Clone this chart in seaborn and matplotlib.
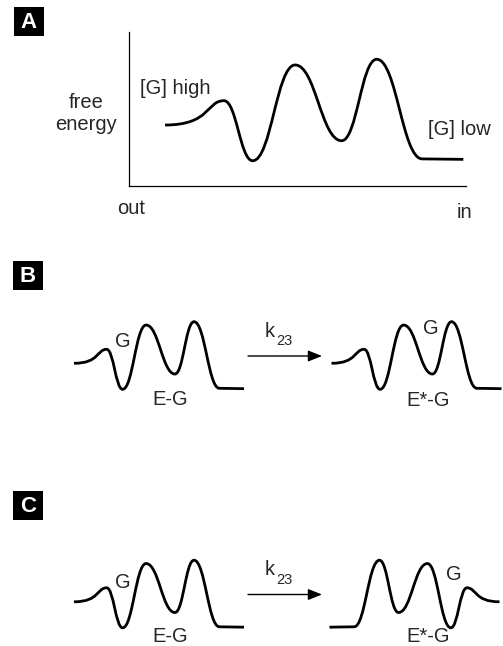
import numpy as np
import matplotlib
matplotlib.use("Agg")
import matplotlib.pyplot as plt
from matplotlib.path import Path
from matplotlib.patches import PathPatch, Rectangle
import seaborn as sns

# ---------------- data ----------------
# Panel A: turning points of the free-energy profile,
# reaction coordinate 0 (out) .. 100 (in), energy 0..10
a_coord = [10.7, 28.2, 36.7, 49.3, 63.1, 73.5, 87.0, 99.2]
a_energy = [3.96, 5.54, 1.64, 7.86, 2.94, 8.23, 1.76, 1.73]

# Panels B/C: turning points of the small E-G profile, coordinate 0..100, energy 0..10
eg_coord = [0.0, 19.2, 28.6, 42.4, 59.4, 70.6, 85.5, 100.0]
eg_energy = [3.88, 5.77, 0.36, 9.05, 2.43, 9.50, 0.50, 0.45]

panel_letters = ["A", "B", "C"]
a_ylabel = ["free", "energy"]
a_xlabels = ["out", "in"]
a_annot = ["[G] high", "[G] low"]
state_labels = ["E-G", "E*-G"]
rate_label = ("k", "23")
ligand = "G"

# ---------------- figure ----------------
W, H = 503, 646
DPI = 100
sns.set_style("white")
plt.rcParams['font.family'] = ['Liberation Sans', 'DejaVu Sans']

fig = plt.figure(figsize=(W / DPI, H / DPI), dpi=DPI)
fig.patch.set_facecolor("white")


def px_axes(left, top, right, bottom):
    return fig.add_axes([left / W, 1 - bottom / H, (right - left) / W, (bottom - top) / H])


def smooth_path(x, y, k=0.44):
    # smooth curve through turning points, flat tangent at each one
    verts = [(x[0], y[0])]
    codes = [Path.MOVETO]
    for i in range(len(x) - 1):
        h = x[i + 1] - x[i]
        k1, k2 = (0.78, 0.30) if i == 0 else (k, k)
        verts += [(x[i] + k1 * h, y[i]), (x[i + 1] - k2 * h, y[i + 1]), (x[i + 1], y[i + 1])]
        codes += [Path.CURVE4] * 3
    return Path(verts, codes)


def draw_profile(ax, x, y, lw=2.0):
    ax.add_patch(PathPatch(smooth_path(x, y), facecolor="none", edgecolor="black",
                           lw=lw, clip_on=False, capstyle="butt", joinstyle="round"))


# Panel A axes
axA = px_axes(129, 32, 466, 186)
axA.set_xlim(0, 100)
axA.set_ylim(0, 10)
sns.despine(ax=axA)
for sp in ["left", "bottom"]:
    axA.spines[sp].set_linewidth(0.9)
    axA.spines[sp].set_color("black")
axA.set_xticks([])
axA.set_yticks([])
axA.set_facecolor("none")
draw_profile(axA, a_coord, a_energy, lw=2.0)

# Small profiles for B and C
C_SHIFT = 238.5
small_boxes = [
    (74, 318, 244, 392, False),
    (331.5, 318, 501.5, 392, False),
    (74, 318 + C_SHIFT, 244, 392 + C_SHIFT, False),
    (329.5, 318 + C_SHIFT, 499.5, 392 + C_SHIFT, True),
]
for (l, t, r, b, mirror) in small_boxes:
    ax = px_axes(l, t, r, b)
    ax.set_xlim((100, 0) if mirror else (0, 100))
    ax.set_ylim(0, 10)
    ax.axis("off")
    draw_profile(ax, eg_coord, eg_energy, lw=2.0)

# overlay for annotations (pixel coordinates)
ov = fig.add_axes([0, 0, 1, 1], zorder=10)
ov.set_xlim(0, W)
ov.set_ylim(H, 0)
ov.axis("off")
ov.patch.set_alpha(0)

FS = 14.5
# panel letters
for letter, (bx, by) in zip(panel_letters, [(14, 7), (13, 261), (13, 491)]):
    ov.add_patch(Rectangle((bx, by), 30, 29, facecolor="black", edgecolor="none"))
    ov.text(bx + 15, by + 15, letter, color="white", fontsize=16, fontweight="bold",
            ha="center", va="center")

# panel A texts
ov.text(86, 108.5, a_ylabel[0], fontsize=FS, ha="center", va="baseline")
ov.text(86, 129.5, a_ylabel[1], fontsize=FS, ha="center", va="baseline")
ov.text(140, 94, a_annot[0], fontsize=FS, ha="left", va="baseline")
ov.text(428, 135, a_annot[1], fontsize=FS, ha="left", va="baseline")
ov.text(117, 214, a_xlabels[0], fontsize=FS, ha="left", va="baseline")
ov.text(457, 218, a_xlabels[1], fontsize=FS, ha="left", va="baseline")

# panels B and C texts
for dy, g_pos, lab_y in [(0, [(115, 346.7), (423, 334)], (405, 406)),
                         (C_SHIFT, [(115, 349.2), (446, 341.5)], (403, 403))]:
    ov.annotate("", xy=(322, 356 + dy), xytext=(248, 356 + dy),
                arrowprops=dict(arrowstyle="-|>,head_length=0.7,head_width=0.28",
                                lw=1.0, color="black", shrinkA=0, shrinkB=0,
                                mutation_scale=12))
    ov.text(265, 336.7 + dy, rate_label[0], fontsize=FS, ha="left", va="baseline")
    ov.text(276, 345 + dy, rate_label[1], fontsize=10.5, ha="left", va="baseline")
    for gx, gy in g_pos:
        ov.text(gx, gy + dy, ligand, fontsize=FS, ha="left", va="baseline")
    ov.text(170, lab_y[0] + dy, state_labels[0], fontsize=FS, ha="center", va="baseline")
    ov.text(428, lab_y[1] + dy, state_labels[1], fontsize=FS, ha="center", va="baseline")

fig.savefig("out.png", dpi=DPI, facecolor="white")
